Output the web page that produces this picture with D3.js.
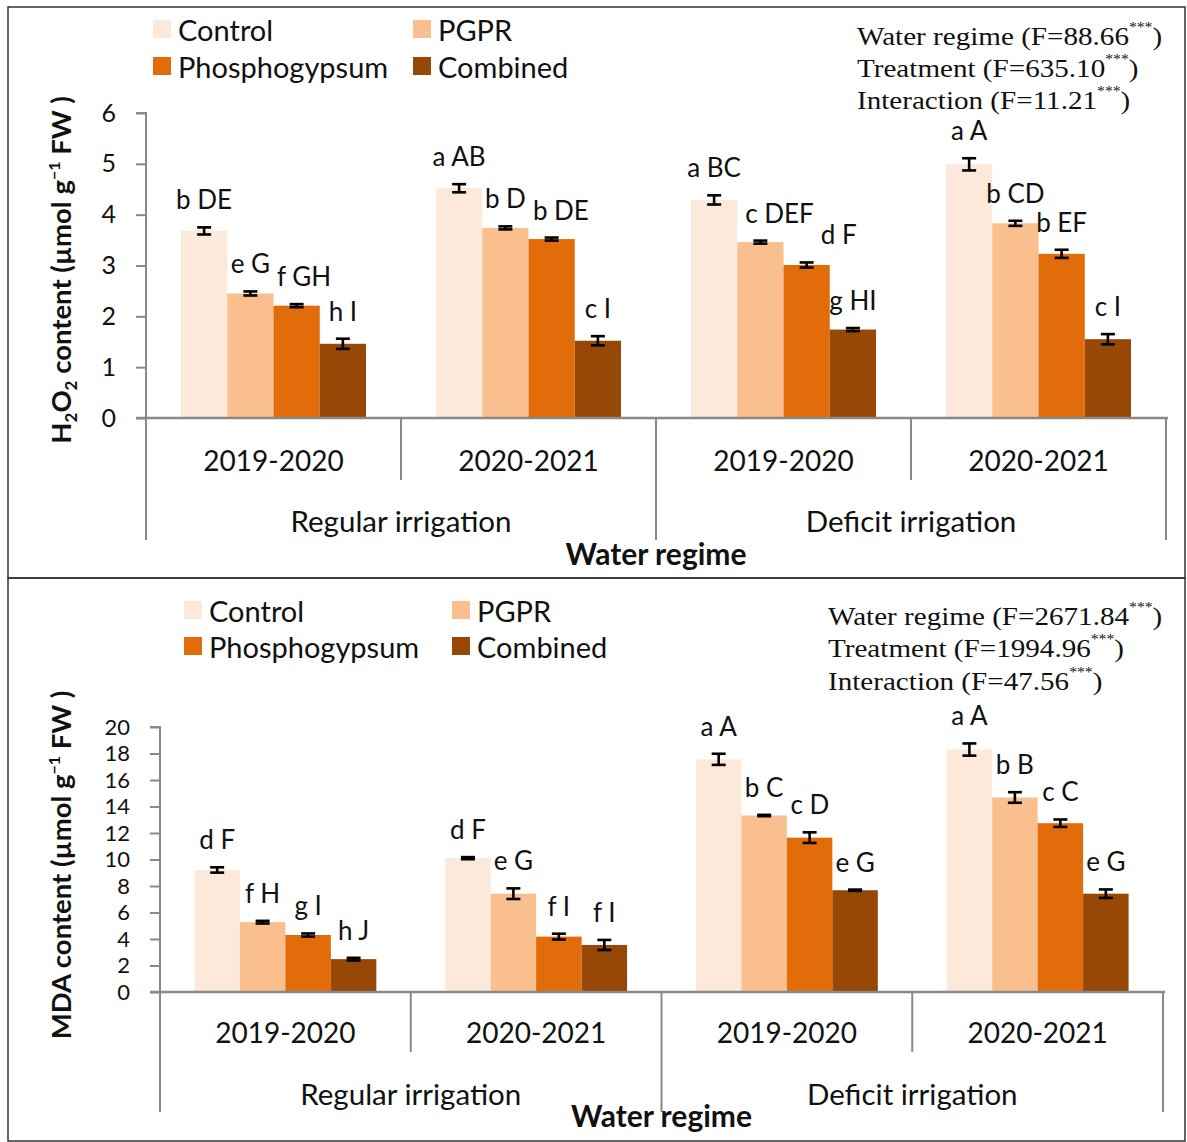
<!DOCTYPE html>
<html>
<head>
<meta charset="utf-8">
<script src="https://cdn.jsdelivr.net/npm/d3@7"></script>
<style>
  html, body { margin: 0; padding: 0; background: #fff; }
  svg text { font-family: Lato, "Open Sans", sans-serif; fill: #111; }
</style>
</head>
<body>
<svg id="fig" width="1187" height="1142"></svg>
<script>
// ---- data ----
const series = ["Control", "PGPR", "Phosphogypsum", "Combined"];
const seriesColors = ["#FDE9D9", "#FABF8F", "#E26B0A", "#974706"];
const years = ["2019-2020", "2020-2021"];
const regimes = ["Regular irrigation", "Deficit irrigation"];

// H2O2 content, one value per regime x season cell
const h2o2Control = [3.68, 4.52, 4.29, 4.99];
const h2o2PGPR = [2.45, 3.74, 3.46, 3.83];
const h2o2Phospho = [2.21, 3.52, 3.01, 3.23];
const h2o2Combined = [1.46, 1.52, 1.74, 1.55];
const h2o2ErrControl = [0.07, 0.08, 0.09, 0.12];
const h2o2ErrPGPR = [0.04, 0.03, 0.03, 0.05];
const h2o2ErrPhospho = [0.03, 0.03, 0.05, 0.08];
const h2o2ErrCombined = [0.10, 0.09, 0.03, 0.10];
const h2o2LetControl = ["b DE", "a AB", "a BC", "a A"];
const h2o2LetPGPR = ["e G", "b D", "c DEF", "b CD"];
const h2o2LetPhospho = ["f GH", "b DE", "d F", "b EF"];
const h2o2LetCombined = ["h I", "c I", "g HI", "c I"];
const h2o2Ticks = [0, 1, 2, 3, 4, 5, 6];
const h2o2Stats = [["Water regime (F=88.66", ")"], ["Treatment (F=635.10", ")"], ["Interaction (F=11.21", ")"]];

// MDA content
const mdaControl = [9.21, 10.10, 17.56, 18.30];
const mdaPGPR = [5.27, 7.42, 13.32, 14.68];
const mdaPhospho = [4.30, 4.18, 11.65, 12.74];
const mdaCombined = [2.48, 3.55, 7.68, 7.42];
const mdaErrControl = [0.20, 0.08, 0.42, 0.46];
const mdaErrPGPR = [0.10, 0.40, 0.05, 0.40];
const mdaErrPhospho = [0.12, 0.22, 0.40, 0.28];
const mdaErrCombined = [0.10, 0.38, 0.05, 0.32];
const mdaLetControl = ["d F", "d F", "a A", "a A"];
const mdaLetPGPR = ["f H", "e G", "b C", "b B"];
const mdaLetPhospho = ["g I", "f I", "c D", "c C"];
const mdaLetCombined = ["h J", "f I", "e G", "e G"];
const mdaTicks = [0, 2, 4, 6, 8, 10, 12, 14, 16, 18, 20];
const mdaStats = [["Water regime (F=2671.84", ")"], ["Treatment (F=1994.96", ")"], ["Interaction (F=47.56", ")"]];

// ---- drawing ----
const svg = d3.select("#fig");
const cells = [];
regimes.forEach(r => years.forEach(y => cells.push(r + "|" + y)));

function buildRows(vals, errs, lets) {
  return series.map((s, i) => cells.map((c, j) => ({
    series: s, si: i, cell: c, value: vals[i][j], err: errs[i][j], label: lets[i][j]
  })));
}

// slide a letter label to the right when it runs into the label or the
// taller bar just before it in the same group
function nudgeLabels(sel, fontSize, barRight, barTop) {
  const nodes = sel.nodes();
  const byCell = d3.group(nodes, n => d3.select(n).datum().cell);
  byCell.forEach(list => {
    list.sort((a, b) => d3.select(a).datum().si - d3.select(b).datum().si);
    for (let i = 1; i < list.length; i++) {
      const prevD = d3.select(list[i - 1]).datum();
      const cy = +list[i].getAttribute("y");
      let cur = list[i].getBBox();
      // keep clear of the neighbouring taller bar
      const edge = barRight(prevD);
      if (cy > barTop(prevD) && cur.x < edge - 8) {
        list[i].setAttribute("x", +list[i].getAttribute("x") + (edge + 8 - cur.x));
        cur = list[i].getBBox();
      }
      // keep clear of the neighbouring label
      const prev = list[i - 1].getBBox();
      const py = +list[i - 1].getAttribute("y");
      const capP = [py - 0.75 * fontSize, py + 7], capC = [cy - 0.75 * fontSize, cy + 7];
      const vOverlap = capC[0] < capP[1] && capP[0] < capC[1];
      const need = prev.x + prev.width + 7 - cur.x;
      if (vOverlap && need > 0) {
        list[i].setAttribute("x", +list[i].getAttribute("x") + need);
      }
    }
  });
}

function drawPanel(cfg) {
  const g = svg.append("g");
  const axisGrey = "#898989";

  // panel frame
  g.append("rect").attr("x", cfg.box[0]).attr("y", cfg.box[1])
    .attr("width", cfg.box[2] - cfg.box[0]).attr("height", cfg.box[3] - cfg.box[1])
    .attr("fill", "none").attr("stroke", "#333").attr("stroke-width", 1.5);

  const x = d3.scaleBand().domain(cells).range([cfg.x0, cfg.x1]).padding(0);
  const xs = d3.scaleBand().domain(series).range([0, x.bandwidth()])
    .paddingInner(0).paddingOuter(0.757);
  const y = d3.scaleLinear().domain([0, cfg.yMax]).range([cfg.yBase, cfg.yTop]);

  // bars
  const rows = buildRows(cfg.vals, cfg.errs, cfg.lets).flat();
  g.selectAll("rect.bar").data(rows).join("rect").attr("class", "bar")
    .attr("x", d => x(d.cell) + xs(d.series))
    .attr("width", xs.bandwidth())
    .attr("y", d => y(d.value))
    .attr("height", d => y(0) - y(d.value))
    .attr("fill", d => seriesColors[d.si]);

  // error bars
  const eb = g.selectAll("g.err").data(rows).join("g").attr("class", "err")
    .attr("transform", d => `translate(${x(d.cell) + xs(d.series) + xs.bandwidth() / 2},0)`)
    .attr("stroke", "#000").attr("stroke-width", 2.6);
  eb.append("line").attr("y1", d => y(d.value - d.err)).attr("y2", d => y(d.value + d.err));
  eb.append("line").attr("x1", -7).attr("x2", 7).attr("y1", d => y(d.value + d.err)).attr("y2", d => y(d.value + d.err));
  eb.append("line").attr("x1", -7).attr("x2", 7).attr("y1", d => y(d.value - d.err)).attr("y2", d => y(d.value - d.err));

  // significance letters
  const lets = g.selectAll("text.let").data(rows).join("text").attr("class", "let")
    .attr("x", d => x(d.cell) + xs(d.series) + xs.bandwidth() / 2)
    .attr("y", d => y(d.value + d.err) - 18)
    .attr("text-anchor", "middle").attr("font-size", 26)
    .text(d => d.label);
  nudgeLabels(lets, 26,
    d => x(d.cell) + xs(d.series) + xs.bandwidth(),
    d => y(d.value));

  // y axis
  const yAxis = g.append("g").attr("transform", `translate(${cfg.x0},0)`)
    .call(d3.axisLeft(y).tickValues(cfg.ticks).tickSize(10).tickPadding(20).tickFormat(d3.format("d")));
  yAxis.select(".domain").attr("stroke", axisGrey).attr("stroke-width", 2)
    .attr("d", `M-10,${cfg.yTop}H0V${cfg.yBase}`);
  yAxis.selectAll(".tick line").attr("stroke", axisGrey).attr("stroke-width", 2);
  yAxis.selectAll(".tick text").attr("font-size", cfg.tickFont).attr("font-family", "Lato").attr("fill", "#111");

  // x axis baseline
  g.append("line").attr("x1", cfg.x0 - 10).attr("x2", cfg.x1 + 2)
    .attr("y1", cfg.yBase).attr("y2", cfg.yBase)
    .attr("stroke", axisGrey).attr("stroke-width", 2.5);

  // hierarchical category dividers
  const edges = cells.map(c => x(c)).concat([cfg.x1]);
  g.selectAll("line.div").data(edges).join("line").attr("class", "div")
    .attr("x1", d => d).attr("x2", d => d)
    .attr("y1", cfg.yBase)
    .attr("y2", (d, i) => (i % 2 === 0 ? cfg.longDiv : cfg.shortDiv))
    .attr("stroke", axisGrey).attr("stroke-width", 2);

  g.selectAll("text.year").data(cells).join("text").attr("class", "year")
    .attr("x", d => x(d) + x.bandwidth() / 2).attr("y", cfg.yearY)
    .attr("text-anchor", "middle").attr("dominant-baseline", "central")
    .attr("font-size", 28).text(d => d.split("|")[1]);

  g.selectAll("text.regime").data(regimes).join("text").attr("class", "regime")
    .attr("x", r => (x(r + "|" + years[0]) + x(r + "|" + years[1]) + x.bandwidth()) / 2)
    .attr("y", cfg.regimeY)
    .attr("text-anchor", "middle").attr("dominant-baseline", "central")
    .attr("font-size", 29.5).text(r => r);

  g.append("text").attr("x", (cfg.x0 + cfg.x1) / 2).attr("y", cfg.titleY)
    .attr("text-anchor", "middle").attr("dominant-baseline", "central")
    .attr("font-size", 30).attr("font-weight", 700).text("Water regime");

  // y title
  const yt = g.append("text")
    .attr("transform", `translate(${cfg.yTitleX},${cfg.yTitleY}) rotate(-90)`)
    .attr("text-anchor", "middle").attr("font-size", 27.5).attr("font-weight", 700);
  cfg.yTitle(yt);

  // legend
  const lg = g.selectAll("g.leg").data(series).join("g").attr("class", "leg")
    .attr("transform", (d, i) => `translate(${cfg.legX[i % 2]},${cfg.legY[Math.floor(i / 2)]})`);
  lg.append("rect").attr("x", 0).attr("y", -9).attr("width", 18).attr("height", 18)
    .attr("fill", (d, i) => seriesColors[i]);
  lg.append("text").attr("x", 25).attr("y", 0).attr("dominant-baseline", "central")
    .attr("font-size", 29).text(d => d);

  // ANOVA statistics
  const st = g.selectAll("text.stat").data(cfg.stats).join("text").attr("class", "stat")
    .attr("transform", (d, i) => `translate(${cfg.statX},${cfg.statY[i]}) scale(1.12,1)`)
    .attr("dominant-baseline", "central")
    .style("font-family", "'Liberation Serif', 'Times New Roman', serif")
    .attr("font-size", 26);
  st.append("tspan").text(d => d[0]);
  st.append("tspan").attr("font-size", 14).attr("dy", -9).text("***");
  st.append("tspan").attr("dy", 9).text(d => d[1]);
}

function h2o2Title(t) {
  t.append("tspan").text("H");
  t.append("tspan").attr("font-size", 17).attr("dy", 6).text("2");
  t.append("tspan").attr("dy", -6).text("O");
  t.append("tspan").attr("font-size", 17).attr("dy", 6).text("2");
  t.append("tspan").attr("dy", -6).text(" content (µmol g");
  t.append("tspan").attr("font-size", 16).attr("dy", -11).text("−1");
  t.append("tspan").attr("dy", 11).text(" FW )");
}
function mdaTitle(t) {
  t.append("tspan").text("MDA content (µmol g");
  t.append("tspan").attr("font-size", 16).attr("dy", -11).text("−1");
  t.append("tspan").attr("dy", 11).text(" FW )");
}

drawPanel({
  box: [8, 7, 1185, 578],
  x0: 146, x1: 1166, yTop: 113, yBase: 418, yMax: 6, ticks: h2o2Ticks, tickFont: 25,
  vals: [h2o2Control, h2o2PGPR, h2o2Phospho, h2o2Combined],
  errs: [h2o2ErrControl, h2o2ErrPGPR, h2o2ErrPhospho, h2o2ErrCombined],
  lets: [h2o2LetControl, h2o2LetPGPR, h2o2LetPhospho, h2o2LetCombined],
  yearY: 460, regimeY: 520, titleY: 553, shortDiv: 480, longDiv: 540,
  yTitleX: 71, yTitleY: 270, yTitle: h2o2Title,
  legX: [153, 413], legY: [29, 66],
  stats: h2o2Stats, statX: 857, statY: [36, 68, 100]
});

drawPanel({
  box: [8, 578, 1185, 1141],
  x0: 160, x1: 1163, yTop: 727, yBase: 992, yMax: 20, ticks: mdaTicks, tickFont: 22,
  vals: [mdaControl, mdaPGPR, mdaPhospho, mdaCombined],
  errs: [mdaErrControl, mdaErrPGPR, mdaErrPhospho, mdaErrCombined],
  lets: [mdaLetControl, mdaLetPGPR, mdaLetPhospho, mdaLetCombined],
  yearY: 1032, regimeY: 1093, titleY: 1115, shortDiv: 1052, longDiv: 1112,
  yTitleX: 71, yTitleY: 865, yTitle: mdaTitle,
  legX: [184, 452], legY: [610, 646],
  stats: mdaStats, statX: 828, statY: [616, 648, 681]
});
</script>
</body>
</html>
